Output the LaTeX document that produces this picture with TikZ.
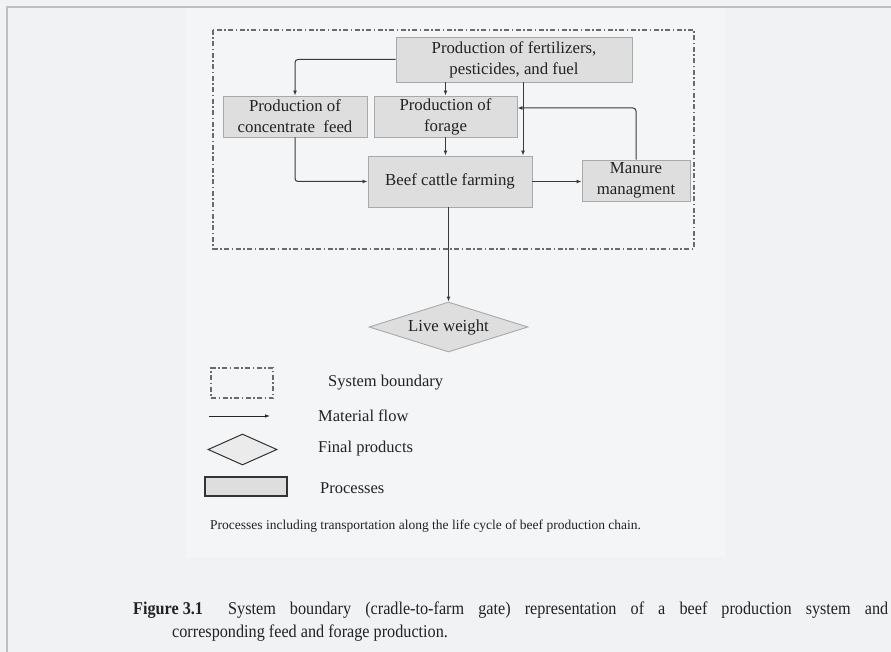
\documentclass[tikz,border=0pt]{standalone}
\usepackage{fontspec}
\setmainfont{Liberation Serif}
\newfontfamily\capfont[FakeStretch=0.9]{Liberation Serif}
\usetikzlibrary{arrows.meta,positioning,calc,shapes.geometric}
\definecolor{pagebg}{HTML}{F1F2F4}
\definecolor{panelbg}{HTML}{F4F5F6}
\definecolor{boxfill}{HTML}{DEDEDE}
\definecolor{boxline}{HTML}{A9A9A9}
\definecolor{flowcol}{HTML}{3A3A3A}
\definecolor{bndcol}{HTML}{6A6A6A}
\definecolor{inkcol}{HTML}{222222}

\begin{document}
\begin{tikzpicture}[x=1pt,y=-1pt,
    proc/.style={draw=boxline,fill=boxfill,line width=0.9pt,inner sep=0pt,align=center,
                 font=\fontsize{16.8}{21}\selectfont,text=inkcol},
    flow/.style={draw=flowcol,line width=1pt,-{Latex[length=5pt,width=4pt]},rounded corners=3pt},
    bnd/.style={draw=bndcol,line width=1.3pt,dash pattern=on 5pt off 2.5pt on 1.5pt off 2.5pt},
    legtxt/.style={anchor=west,inner sep=0pt,font=\fontsize{16.5}{19}\selectfont,text=inkcol},
    captxt/.style={anchor=base west,inner sep=0pt,font=\fontsize{18}{23}\capfont,text=inkcol}]
                    % page and panel
                    \fill[pagebg] (0,0) rectangle (891,652);
                    \useasboundingbox (0,0) rectangle (891,652);
                    \fill[panelbg] (186,8) rectangle (725,557);
                    \draw[black!25,line width=2pt] (7,652) -- (7,7) -- (891,7);

                    % processes
                    \node[proc,minimum width=236,minimum height=45] (fert) at (514,59.5) {Production of fertilizers,\\pesticides, and fuel};
                    \node[proc,minimum width=144,minimum height=41] (conc) at (295,116.5) {Production of\\concentrate\ \ feed};
                    \node[proc,minimum width=143,minimum height=41] (forage) at (445.5,116.5) {Production of\\forage};
                    \node[proc,minimum width=164,minimum height=51] (beef) at (450,181.5) {Beef cattle farming};
                    \node[proc,minimum width=108,minimum height=41] (manure) at (636,180.5) {Manure\\managment};
                    \node[proc,diamond,aspect=3.2,minimum width=159,minimum height=50] (live) at (448.5,327) {Live weight};

                    % system boundary
                    \draw[bnd] (213,30) rectangle (694,249);

                    % material flows
                    \draw[flow] (fert.west) -| (conc.north);
                    \draw[flow] (fert.south -| forage.north) -- (forage.north);
                    \draw[flow] ([xshift=9pt]fert.south) -- ([xshift=9pt]fert.south |- beef.north);
                    \draw[flow] (manure.north) |- ([yshift=8.5pt]forage.east);
                    \draw[flow] (conc.south) |- (beef.west);
                    \draw[flow] (forage.south) -- (forage.south |- beef.north);
                    \draw[flow] (beef.east) -- (beef.east -| manure.west);
                    \draw[flow] (beef.south -| live.north) -- (live.north);

                    % legend
                    \node[bnd,minimum width=62,minimum height=30,inner sep=0pt] (legbnd) at (242,383) {};
                    \coordinate (flowa) at (209,416);
                    \coordinate (flowb) at (270,416);
                    \draw[draw=black!85,line width=0.8pt,-{Latex[length=5pt,width=3.5pt]}] (flowa) -- (flowb);
                    \node[diamond,draw=black!80,fill=boxfill!60,line width=1pt,aspect=2.2,inner sep=0pt,
                          minimum width=69,minimum height=31] (legprod) at (242.5,449.5) {};
                    \node[draw=black!80,fill=boxfill,line width=1.2pt,inner sep=0pt,
                          minimum width=82,minimum height=19] (legproc) at (246,486.5) {};
                    \node[legtxt] (tbnd) at (328,383) {System boundary};
                    \node[legtxt] (tflow) at (318,416) {Material flow};
                    \node[legtxt] (tprod) at (318,449) {Final products};
                    \node[legtxt] (tproc) at (320,488) {Processes};
                    \node[anchor=west,inner sep=0pt,font=\fontsize{13.5}{16}\selectfont,text=inkcol] (note) at (210,526)
                        {Processes including transportation along the life cycle of beef production chain.};

                    % caption
                    \node[captxt,font=\fontsize{18}{23}\capfont\bfseries] (capnum) at (133,614) {Figure 3.1};
                    \node[captxt] (capa) at (228,614)
                        {\makebox[660pt][s]{System boundary (cradle-to-farm gate) representation of a beef production system and}};
                    \node[captxt] (capb) at (172,637) {corresponding feed and forage production.};
\end{tikzpicture}
\end{document}
